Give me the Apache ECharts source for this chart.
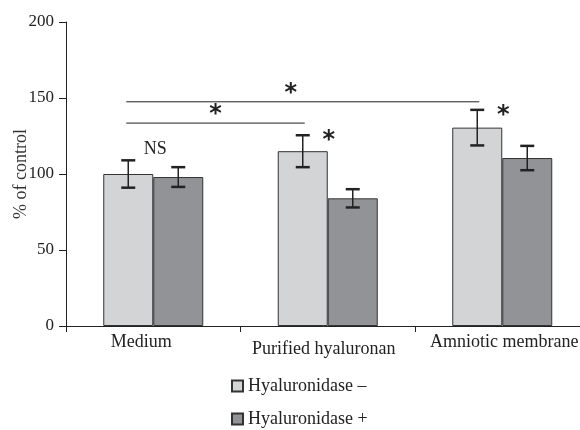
<!DOCTYPE html>
<html><head><meta charset="utf-8">
<script src="https://cdn.jsdelivr.net/npm/echarts@6/dist/echarts.min.js"></script>
<style>html,body{margin:0;padding:0;background:#fff}#c{width:580px;height:430px}</style>
</head><body><div id="c"></div>
<script>
var categories = ['Medium', 'Purified hyaluronan', 'Amniotic membrane'];
var seriesNames = ['Hyaluronidase \u2013', 'Hyaluronidase +'];
var valuesMinus = [100, 115, 130.5];
var errMinus = [9, 10.5, 11.7];
var valuesPlus = [98, 84, 110.5];
var errPlus = [6.5, 6, 8];
var yTicks = [0, 50, 100, 150, 200];
// brackets: [fromCategory, toCategory, yValue] (both on "–" series)
var brackets = [[0, 2, 147.5], [0, 1, 133.5]];
// single stars above "–" bars: [category, yValue]
var stars = [[1, 126], [2, 142]];
// NS label: [category, yValue]
var nsLabels = [[0, 116.5]];

var FONT = '"Liberation Serif", "DejaVu Serif", serif';
var BW = 50;
var colors = ['#d3d4d6', '#929397'];
var labelPad = [[0, 24, 0, 0], [7, 8, 0, 0], [0, 0, 0, 4]];
var bracketStarShift = [-12, 0];

var errData = [];
for (var i = 0; i < categories.length; i++) {
  errData.push([i, valuesMinus[i] - errMinus[i], valuesMinus[i] + errMinus[i], 0]);
  errData.push([i, valuesPlus[i] - errPlus[i], valuesPlus[i] + errPlus[i], 1]);
}
var starStyle = {text: '*', fontSize: 24, fontFamily: 'DejaVu Sans', fontWeight: 'bold', fill: '#222', align: 'center', verticalAlign: 'middle'};
var legendText = {fontFamily: FONT, fontSize: 18, color: '#222'};

var chart = echarts.init(document.getElementById('c'));
chart.setOption({
  animation: false,
  textStyle: {fontFamily: FONT},
  grid: {left: 66, width: 523.5, top: 22, bottom: 104, containLabel: false, outerBoundsMode: 'none'},
  legend: [
    {left: 226, top: 372, itemWidth: 11, itemHeight: 11, icon: 'rect', itemGap: 8,
     data: [seriesNames[0]], textStyle: legendText},
    {left: 226, top: 405, itemWidth: 11, itemHeight: 11, icon: 'rect', itemGap: 8,
     data: [seriesNames[1]], textStyle: legendText}
  ],
  xAxis: {
    type: 'category',
    data: categories.map(function (c, i) {
      return {value: c, textStyle: {padding: labelPad[i]}};
    }),
    axisLine: {lineStyle: {color: '#222', width: 1}},
    axisTick: {show: true, alignWithLabel: false, length: 6, lineStyle: {color: '#222'}},
    axisLabel: {fontFamily: FONT, fontSize: 18, color: '#222', margin: 7, interval: 0}
  },
  yAxis: {
    type: 'value', min: 0, max: 200, interval: 50,
    name: '% of control', nameLocation: 'middle', nameGap: 36, nameRotate: 90,
    nameMoveOverlap: false,
    nameTextStyle: {fontFamily: FONT, fontSize: 18, color: '#333'},
    axisLine: {show: true, lineStyle: {color: '#222', width: 1}},
    axisTick: {show: true, length: 7, lineStyle: {color: '#222'}},
    axisLabel: {fontFamily: FONT, fontSize: 17, color: '#222', margin: 12,
      formatter: function (v) { return yTicks.indexOf(v) >= 0 ? String(v) : ''; }},
    splitLine: {show: false}
  },
  series: [
    {name: seriesNames[0], type: 'bar', data: valuesMinus, barWidth: BW, barGap: '0%',
     itemStyle: {color: colors[0], borderColor: '#333', borderWidth: 1}},
    {name: seriesNames[1], type: 'bar', data: valuesPlus, barWidth: BW, barGap: '0%',
     itemStyle: {color: colors[1], borderColor: '#333', borderWidth: 1}},
    {type: 'custom', data: errData, z: 10, silent: true,
     renderItem: function (params, api) {
       var off = api.value(3) === 0 ? -BW / 2 : BW / 2;
       var lo = api.coord([api.value(0), api.value(1)]);
       var hi = api.coord([api.value(0), api.value(2)]);
       var x = lo[0] + off, hw = 7;
       return {type: 'group', children: [
         {type: 'line', shape: {x1: x, y1: hi[1], x2: x, y2: lo[1]}, style: {stroke: '#222', lineWidth: 1.5}},
         {type: 'line', shape: {x1: x - hw, y1: hi[1], x2: x + hw, y2: hi[1]}, style: {stroke: '#222', lineWidth: 2.5}},
         {type: 'line', shape: {x1: x - hw, y1: lo[1], x2: x + hw, y2: lo[1]}, style: {stroke: '#222', lineWidth: 2.5}}
       ]};
     }},
    {type: 'custom', data: brackets, z: 10, silent: true,
     renderItem: function (params, api) {
       var a = api.coord([api.value(0), api.value(2)]);
       var b = api.coord([api.value(1), api.value(2)]);
       var x1 = a[0] - BW / 2 - 2, x2 = b[0] - BW / 2 + 2;
       return {type: 'group', children: [
         {type: 'line', shape: {x1: x1, y1: a[1], x2: x2, y2: a[1]}, style: {stroke: '#222', lineWidth: 1}},
         {type: 'text', x: (a[0] + b[0]) / 2 - BW / 2 + bracketStarShift[params.dataIndex], y: a[1] - 8, style: starStyle}
       ]};
     }},
    {type: 'custom', data: stars, z: 10, silent: true,
     renderItem: function (params, api) {
       var p = api.coord([api.value(0), api.value(1)]);
       return {type: 'text', x: p[0] - BW / 2 + 26, y: p[1] + 6, style: starStyle};
     }},
    {type: 'custom', data: nsLabels, z: 10, silent: true,
     renderItem: function (params, api) {
       var p = api.coord([api.value(0), api.value(1)]);
       return {type: 'text', x: p[0] + 2, y: p[1],
         style: {text: 'NS', fontSize: 18, fontFamily: FONT, fill: '#222', align: 'center', verticalAlign: 'middle'}};
     }}
  ]
});
</script></body></html>
